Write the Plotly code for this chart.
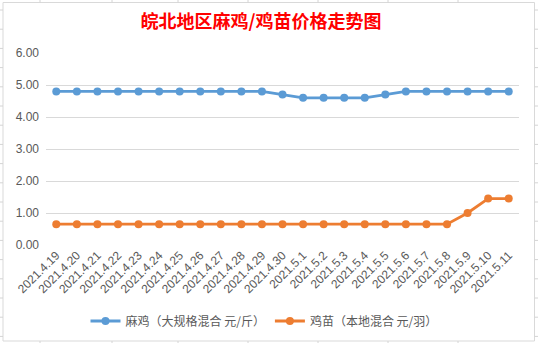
import plotly.graph_objects as go

dates = ["2021.4.19", "2021.4.20", "2021.4.21", "2021.4.22", "2021.4.23", "2021.4.24",
         "2021.4.25", "2021.4.26", "2021.4.27", "2021.4.28", "2021.4.29", "2021.4.30",
         "2021.5.1", "2021.5.2", "2021.5.3", "2021.5.4", "2021.5.5", "2021.5.6",
         "2021.5.7", "2021.5.8", "2021.5.9", "2021.5.10", "2021.5.11"]
maji = [4.8, 4.8, 4.8, 4.8, 4.8, 4.8, 4.8, 4.8, 4.8, 4.8, 4.8, 4.7,
        4.6, 4.6, 4.6, 4.6, 4.7, 4.8, 4.8, 4.8, 4.8, 4.8, 4.8]
jimiao = [0.65, 0.65, 0.65, 0.65, 0.65, 0.65, 0.65, 0.65, 0.65, 0.65, 0.65, 0.65,
          0.65, 0.65, 0.65, 0.65, 0.65, 0.65, 0.65, 0.65, 1.0, 1.45, 1.45]
yticks = [0, 1, 2, 3, 4, 5, 6]
name1 = "麻鸡（大规格混合 元/斤）"
name2 = "鸡苗（本地混合 元/羽）"
title = "皖北地区麻鸡/鸡苗价格走势图"

W, H = 538, 343
ML, MR, MT, MB = 46, 19, 53, 98

fig = go.Figure()
fig.add_trace(go.Scatter(x=dates, y=maji, name=name1, mode="lines+markers",
                         line=dict(color="#5B9BD5", width=2.8),
                         marker=dict(color="#5B9BD5", size=8)))
fig.add_trace(go.Scatter(x=dates, y=jimiao, name=name2, mode="lines+markers",
                         line=dict(color="#ED7D31", width=2.8),
                         marker=dict(color="#ED7D31", size=8)))

# chart border and spreadsheet cell lines (paper coordinates)
pw, ph = W - ML - MR, H - MT - MB
def px_x(p):
    return (p - ML) / pw
def px_y(p):
    return (H - MB - p) / ph

shapes = [dict(type="rect", xref="paper", yref="paper",
               x0=px_x(3), x1=px_x(534.5), y0=px_y(341), y1=px_y(2.5),
               line=dict(color="#D9D9D9", width=1), layer="below")]
row = 10
while row < H:
    for xa, xb in [(0, 3), (534.5, 538)]:
        shapes.append(dict(type="line", xref="paper", yref="paper",
                           x0=px_x(xa), x1=px_x(xb), y0=px_y(row), y1=px_y(row),
                           line=dict(color="#D4D4D4", width=1)))
    row += 19.2
for col in [40, 112, 178, 248, 318, 388, 458]:
    for ya, yb in [(0, 2.5), (341, 343)]:
        shapes.append(dict(type="line", xref="paper", yref="paper",
                           x0=px_x(col), x1=px_x(col), y0=px_y(ya), y1=px_y(yb),
                           line=dict(color="#D4D4D4", width=1)))

fig.update_layout(
    width=W, height=H,
    margin=dict(l=ML, r=MR, t=MT, b=MB, autoexpand=False),
    paper_bgcolor="white", plot_bgcolor="white",
    title=dict(text=title, xref="container", yref="container", x=261 / W, xanchor="center",
               y=1 - 22 / H, yanchor="middle",
               font=dict(family="Noto Sans CJK SC", size=18, color="#FF0000", weight="bold")),
    xaxis=dict(type="category", range=[-0.5, len(dates) - 0.5], tickangle=-45,
               showgrid=False, showline=False, zeroline=False, ticks="", automargin=False,
               tickfont=dict(family="Liberation Sans", size=12, color="#595959")),
    yaxis=dict(range=[0, 6], tickvals=yticks, tickformat=".2f", automargin=False,
               showgrid=True, gridcolor="#D9D9D9", gridwidth=1, zeroline=False,
               showline=False, ticks="", ticklabelstandoff=6,
               tickfont=dict(family="Liberation Sans", size=12, color="#595959")),
    legend=dict(orientation="h", x=px_x(264), xanchor="center", y=px_y(321), yanchor="middle",
                font=dict(family="Noto Sans CJK SC", size=12, color="#595959"),
                itemwidth=30, bgcolor="rgba(0,0,0,0)"),
    shapes=shapes,
    showlegend=True,
)

fig.write_html("out.html")
